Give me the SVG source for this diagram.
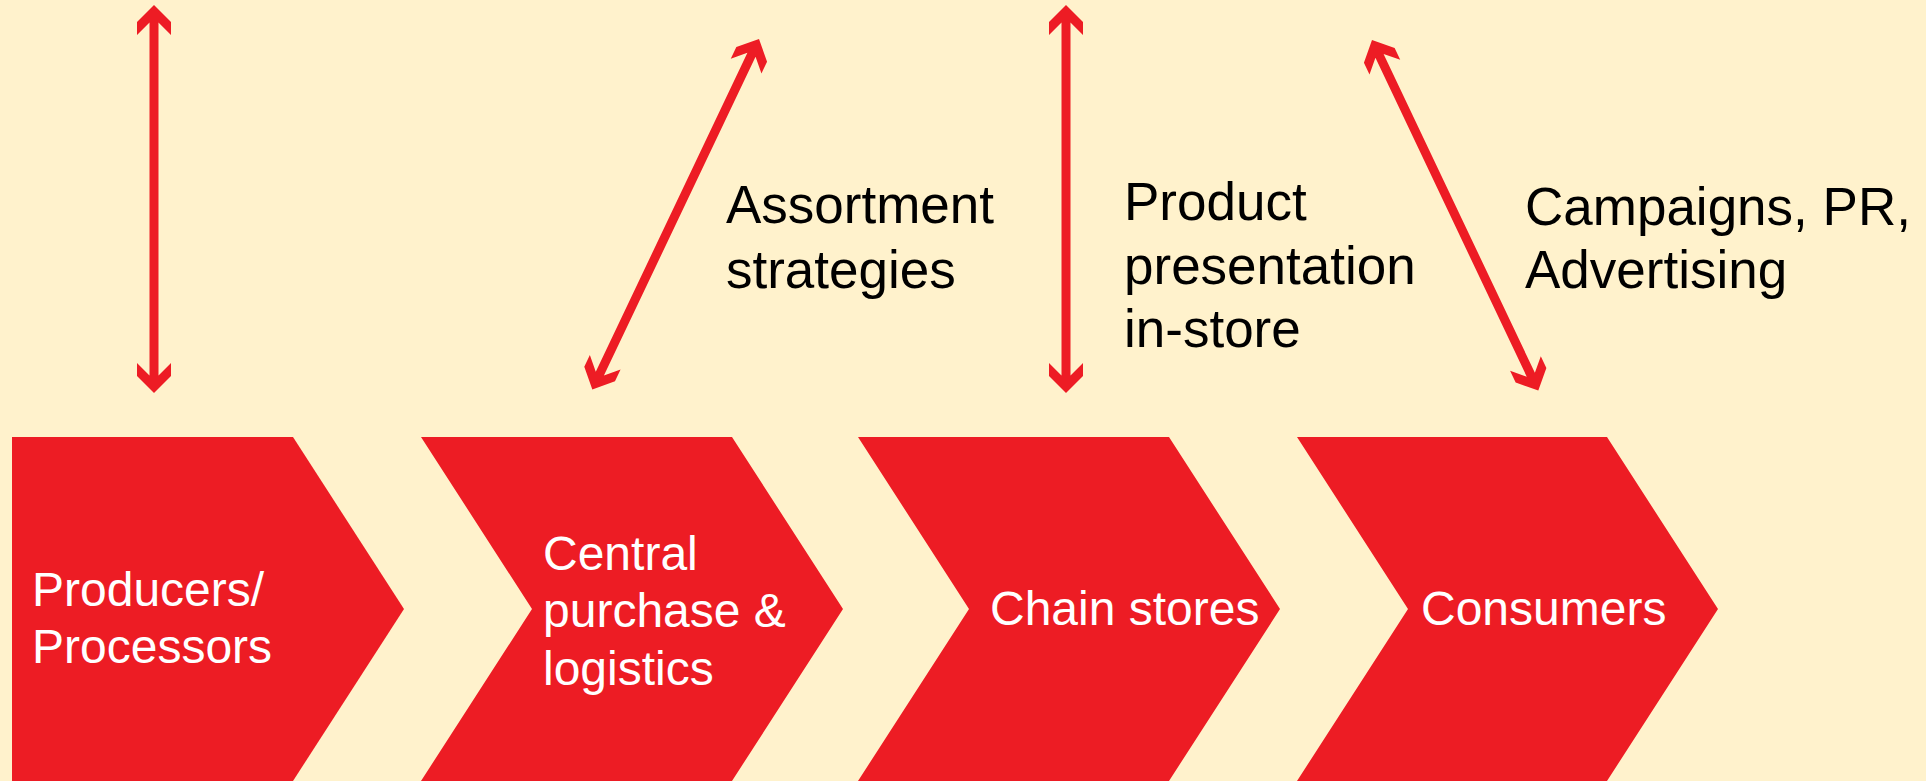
<svg xmlns="http://www.w3.org/2000/svg" width="1926" height="781" viewBox="0 0 1926 781">
  <style>
    .stage { fill: #ED1C24; }
    .stage-label { font-family: "Liberation Sans", Arial, sans-serif; font-size: 48px; fill: #FFFFFF; }
    .note { font-family: "Liberation Sans", Arial, sans-serif; font-size: 53px; fill: #000000; }
    .link { fill: #ED1C24; }
  </style>
  <defs>
    <!-- double-headed arrow, tip to tip along +x, 388 long -->
    <path id="dbl-arrow" d="M0,0 L17,-17 L30,-17 L17.5,-4.5 L370.5,-4.5 L358,-17 L371,-17 L388,0 L371,17 L358,17 L370.5,4.5 L17.5,4.5 L30,17 L17,17 Z"/>
  </defs>

  <rect x="0" y="0" width="1926" height="781" fill="#FFF2CC"/>

  <!-- connectors -->
  <g id="connectors" class="link">
    <use href="#dbl-arrow" transform="translate(154,5) rotate(90)"/>
    <use href="#dbl-arrow" transform="translate(759,39) rotate(115.44)"/>
    <use href="#dbl-arrow" transform="translate(1066,5) rotate(90)"/>
    <use href="#dbl-arrow" transform="translate(1372,40) rotate(64.62)"/>
  </g>

  <!-- value chain stages -->
  <g id="producers">
    <path class="stage" d="M12,437 L293,437 L404,609 L293,781 L12,781 Z"/>
    <text class="stage-label" x="32" y="606">Producers/</text>
    <text class="stage-label" x="32" y="663">Processors</text>
  </g>
  <g id="central-purchase">
    <path class="stage" d="M421,437 L732,437 L843,609 L732,781 L421,781 L532,609 Z"/>
    <text class="stage-label" x="543" y="570">Central</text>
    <text class="stage-label" x="543" y="627">purchase &amp;</text>
    <text class="stage-label" x="543" y="685">logistics</text>
  </g>
  <g id="chain-stores">
    <path class="stage" d="M858,437 L1169,437 L1280,609 L1169,781 L858,781 L969,609 Z"/>
    <text class="stage-label" x="990" y="625">Chain stores</text>
  </g>
  <g id="consumers">
    <path class="stage" d="M1297,437 L1607,437 L1718,609 L1607,781 L1297,781 L1408,609 Z"/>
    <text class="stage-label" x="1421" y="625">Consumers</text>
  </g>

  <!-- activity notes -->
  <g id="assortment">
    <text class="note" x="726" y="223">Assortment</text>
    <text class="note" x="726" y="288">strategies</text>
  </g>
  <g id="presentation">
    <text class="note" x="1124" y="220">Product</text>
    <text class="note" x="1124" y="284">presentation</text>
    <text class="note" x="1124" y="347">in-store</text>
  </g>
  <g id="campaigns">
    <text class="note" x="1525" y="225">Campaigns, PR,</text>
    <text class="note" x="1525" y="288">Advertising</text>
  </g>
</svg>
